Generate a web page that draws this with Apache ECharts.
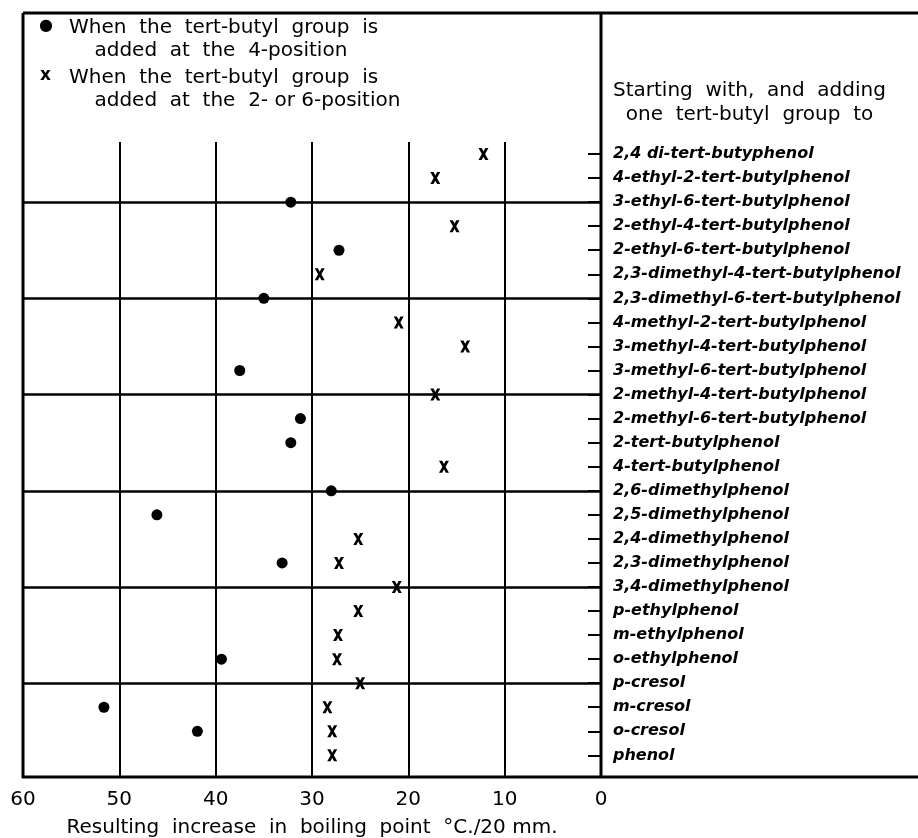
<!DOCTYPE html>
<html>
<head>
<meta charset="utf-8">
<script src="https://cdn.jsdelivr.net/npm/echarts@6/dist/echarts.min.js"></script>
<style>
	html, body { margin: 0; padding: 0; background: #fff; }
	#chart_1 { width: 918px; height: 838px; }
</style>
</head>
<body>
<div id="chart_1"></div>
<script>
// compounds, top to bottom
var compounds = [
	'2,4 di-tert-butyphenol',
	'4-ethyl-2-tert-butylphenol',
	'3-ethyl-6-tert-butylphenol',
	'2-ethyl-4-tert-butylphenol',
	'2-ethyl-6-tert-butylphenol',
	'2,3-dimethyl-4-tert-butylphenol',
	'2,3-dimethyl-6-tert-butylphenol',
	'4-methyl-2-tert-butylphenol',
	'3-methyl-4-tert-butylphenol',
	'3-methyl-6-tert-butylphenol',
	'2-methyl-4-tert-butylphenol',
	'2-methyl-6-tert-butylphenol',
	'2-tert-butylphenol',
	'4-tert-butylphenol',
	'2,6-dimethylphenol',
	'2,5-dimethylphenol',
	'2,4-dimethylphenol',
	'2,3-dimethylphenol',
	'3,4-dimethylphenol',
	'p-ethylphenol',
	'm-ethylphenol',
	'o-ethylphenol',
	'p-cresol',
	'm-cresol',
	'o-cresol',
	'phenol'
];
// tert-butyl added at the 4-position (dots)
var pos4 = [null, null, 32.2, null, 27.2, null, 35.0, null, null, 37.5, null, 31.2, 32.2,
	null, 28.0, 46.1, null, 33.1, null, null, null, 39.4, null, 51.6, 41.9, null];
// tert-butyl added at the 2- or 6-position (crosses)
var pos26 = [12.2, 17.2, null, 15.2, null, 29.2, null, 21.0, 14.1, null, 17.2, null, null,
	16.3, null, null, 25.2, 27.2, 21.2, 25.2, 27.3, 27.4, 25.0, 28.4, 27.9, 27.9];
// rows where the heavy horizontal rules sit
var groupRules = [2, 6, 10, 14, 18, 22];

var rowIdx = compounds.map(function (c, i) { return i; });

function toPoints(arr) {
	var t = [];
	for (var i = 0; i < arr.length; i++) {
		if (arr[i] !== null) t.push([arr[i], i]);
	}
	return t;
}

var crossPath = 'path://M0,0 L3.2,0 L5,3.4 L6.8,0 L10,0 L6.6,6 L10,12 L6.8,12 L5,8.6 L3.2,12 L0,12 L3.4,6 Z';
var font = '"DejaVu Sans", sans-serif';

var myChart = echarts.init(document.getElementById('chart_1'), null, { renderer: 'canvas' });
var option = {
	backgroundColor: '#fff',
	animation: false,
	grid: { left: 23, right: 317, top: 142, bottom: 61, outerBoundsMode: 'none', containLabel: false },
	xAxis: {
		type: 'value',
		min: 0,
		max: 60,
		interval: 10,
		inverse: true,
		name: 'Resulting  increase  in  boiling  point  \u00b0C./20 mm.',
		nameLocation: 'middle',
		nameGap: 41,
		nameTextStyle: { color: '#000', fontSize: 20, fontFamily: font },
		axisLine: { show: false },
		axisTick: { show: false },
		axisLabel: { color: '#000', fontSize: 20, fontFamily: font, margin: 13 },
		splitLine: { show: true, lineStyle: { color: '#000', width: 2 } }
	},
	yAxis: {
		type: 'value',
		inverse: true,
		min: -0.5,
		max: 25.9,
		position: 'right',
		axisLine: { show: false },
		splitLine: { show: false },
		axisTick: {
			show: true,
			inside: true,
			length: 13,
			customValues: rowIdx,
			lineStyle: { color: '#000', width: 2 }
		},
		axisLabel: {
			show: true,
			customValues: rowIdx,
			margin: 12,
			color: '#000',
			fontSize: 16,
			fontStyle: 'italic',
			fontWeight: 'bold',
			fontFamily: font,
			formatter: function (v) { return compounds[v]; }
		}
	},
	series: [{
		name: 'When the tert-butyl group is added at the 4-position',
		type: 'scatter',
		symbol: 'circle',
		symbolSize: 11,
		itemStyle: { color: '#000', opacity: 1 },
		data: toPoints(pos4),
		markLine: {
			silent: true,
			symbol: 'none',
			label: { show: false },
			lineStyle: { color: '#000', width: 2.5, type: 'solid', opacity: 1 },
			data: groupRules.map(function (r) { return { yAxis: r }; })
		},
		z: 5
	}, {
		name: 'When the tert-butyl group is added at the 2- or 6-position',
		type: 'scatter',
		symbol: crossPath,
		symbolSize: [10, 12],
		itemStyle: { color: '#000', opacity: 1 },
		data: toPoints(pos26),
		z: 5
	}],
	graphic: [
		// frame
		{ type: 'line', shape: { x1: 23, y1: 13, x2: 918, y2: 13 }, style: { stroke: '#000', lineWidth: 3 } },
		{ type: 'line', shape: { x1: 23, y1: 13, x2: 23, y2: 778 }, style: { stroke: '#000', lineWidth: 3 } },
		{ type: 'line', shape: { x1: 601, y1: 13, x2: 601, y2: 778 }, style: { stroke: '#000', lineWidth: 3 } },
		{ type: 'line', shape: { x1: 22, y1: 777, x2: 918, y2: 777 }, style: { stroke: '#000', lineWidth: 3 } },
		// key
		{ type: 'text', left: 39, top: 18, style: { text: '\u25CF', fill: '#000', font: '16px ' + font } },
		{ type: 'text', left: 69, top: 16, style: { text: 'When  the  tert-butyl  group  is\n    added  at  the  4-position', fill: '#000', font: '20px ' + font, lineHeight: 23 } },
		{ type: 'text', left: 40, top: 67, style: { text: 'x', fill: '#000', font: 'bold 17px ' + font } },
		{ type: 'text', left: 69, top: 66, style: { text: 'When  the  tert-butyl  group  is\n    added  at  the  2- or 6-position', fill: '#000', font: '20px ' + font, lineHeight: 23 } },
		{ type: 'text', left: 613, top: 79, style: { text: 'Starting  with,  and  adding\n  one  tert-butyl  group  to', fill: '#000', font: '20px ' + font, lineHeight: 24 } }
	]
};
myChart.setOption(option);
window.addEventListener('resize', function () {
	myChart.resize();
});
</script>
</body>
</html>
